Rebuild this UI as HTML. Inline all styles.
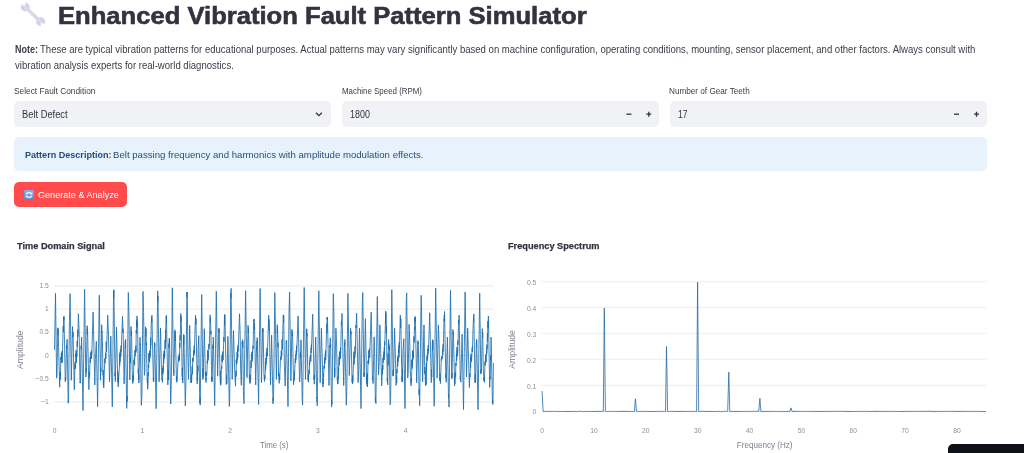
<!DOCTYPE html>
<html><head><meta charset="utf-8">
<style>
html,body{margin:0;padding:0;background:#fff;}
body{width:1024px;height:453px;overflow:hidden;position:relative;font-family:"Liberation Sans", Arial, sans-serif;color:#31333f;}
.a{position:absolute;white-space:nowrap;line-height:1;}
.t{display:inline-block;transform-origin:0 0;}
.box{position:absolute;background:#f0f2f6;border-radius:5px;}
.tick{font-size:8.0px;fill:#8d8f98;font-family:"Liberation Sans", Arial, sans-serif;}
.atitle{font-size:8.1px;fill:#7d8190;font-family:"Liberation Sans", Arial, sans-serif;}
.ytitle{font-size:8.7px;}
</style></head><body>
<div class="box" style="left:14px;top:101px;width:317px;height:26px;"></div>
<div class="box" style="left:342px;top:101px;width:317px;height:26px;"></div>
<div class="box" style="left:670px;top:101px;width:317px;height:26px;"></div>
<div class="a" style="left:14px;top:137px;width:973px;height:34px;background:#e8f2fc;border-radius:5px;"></div>
<div class="a" style="left:14px;top:182px;width:112.5px;height:25px;background:#ff4b4b;border-radius:5px;"></div>

<svg class="a" style="left:0;top:0" width="60" height="32" viewBox="0 0 60 32">
  <defs><mask id="wm"><rect x="0" y="0" width="60" height="32" fill="#fff"/>
    <rect x="-1.5" y="-5" width="3" height="5.2" rx="0.6" fill="#000" transform="translate(24.6 5.2) rotate(-28)"/>
    <rect x="-1.5" y="0" width="3" height="5.2" rx="0.6" fill="#000" transform="translate(41.6 23.2) rotate(-28)"/>
  </mask></defs>
  <g fill="#d5cee6" mask="url(#wm)">
    <circle cx="25.2" cy="7.0" r="4.4"/>
    <circle cx="40.6" cy="21.7" r="4.4"/>
    <path d="M25.2 7.0 L40.6 21.7" stroke="#dcd5ee" stroke-width="3.6" stroke-linecap="round"/>
  </g>
</svg>
<div class="a" id="title" style="left:58.38px;top:4.15px;font-size:23.8px;font-weight:bold;color:#31333f;-webkit-text-stroke:0.6px #31333f;"><span class="t" style="transform:scaleX(1.0756)">Enhanced Vibration Fault Pattern Simulator</span></div>
<div class="a" id="n1a" style="left:14.6px;top:44.73px;font-size:10.0px;color:#3a3c47;font-weight:bold;"><span class="t" style="transform:scaleX(0.9004)">Note:</span></div>
<div class="a" id="n1b" style="left:40.43px;top:44.73px;font-size:10.0px;color:#3a3c47;"><span class="t" style="transform:scaleX(0.9539)">These are typical vibration patterns for educational purposes. Actual patterns may vary significantly based on machine configuration, operating conditions, mounting, sensor placement, and other factors. Always consult with</span></div>
<div class="a" id="n2" style="left:15.0px;top:60.73px;font-size:10.0px;color:#3a3c47;"><span class="t" style="transform:scaleX(0.9556)">vibration analysis experts for real-world diagnostics.</span></div>
<div class="a" id="l1" style="left:13.65px;top:87.32px;font-size:8.6px;color:#3a3c47;"><span class="t" style="transform:scaleX(0.9680)">Select Fault Condition</span></div>
<div class="a" id="l2" style="left:341.74px;top:87.32px;font-size:8.6px;color:#3a3c47;"><span class="t" style="transform:scaleX(0.9203)">Machine Speed (RPM)</span></div>
<div class="a" id="l3" style="left:669.1px;top:87.32px;font-size:8.6px;color:#3a3c47;"><span class="t" style="transform:scaleX(0.9507)">Number of Gear Teeth</span></div>
<div class="a" id="v1" style="left:21.68px;top:110.44px;font-size:10.0px;color:#31333f;"><span class="t" style="transform:scaleX(0.9319)">Belt Defect</span></div>
<div class="a" id="v2" style="left:350.12px;top:110.44px;font-size:10.0px;color:#31333f;"><span class="t" style="transform:scaleX(0.8920)">1800</span></div>
<div class="a" id="v3" style="left:678.12px;top:110.44px;font-size:10.0px;color:#31333f;"><span class="t" style="transform:scaleX(0.8524)">17</span></div>
<div class="a" id="infoa" style="left:24.57px;top:149.70px;font-size:9.8px;color:#1f4e7a;font-weight:bold;"><span class="t" style="transform:scaleX(0.9243)">Pattern Description:</span></div>
<div class="a" id="infob" style="left:112.86px;top:149.70px;font-size:9.8px;color:#1f4e7a;"><span class="t" style="transform:scaleX(0.9818)">Belt passing frequency and harmonics with amplitude modulation effects.</span></div>
<div class="a" id="btn" style="left:38.29px;top:190.04px;font-size:9.4px;color:#fff;"><span class="t" style="transform:scaleX(0.9691)">Generate &amp; Analyze</span></div>
<div class="a" id="ct1" style="left:17.0px;top:240.66px;font-size:9.5px;font-weight:bold;color:#31333f;-webkit-text-stroke:0.25px #31333f;"><span class="t" style="transform:scaleX(0.9693)">Time Domain Signal</span></div>
<div class="a" id="ct2" style="left:508.2px;top:240.66px;font-size:9.5px;font-weight:bold;color:#31333f;-webkit-text-stroke:0.25px #31333f;"><span class="t" style="transform:scaleX(0.9686)">Frequency Spectrum</span></div>
<svg class="a" style="left:313.5px;top:111px" width="10" height="7" viewBox="0 0 10 7"><path d="M2.0 1.7 L4.9 4.6 L7.8 1.7" fill="none" stroke="#31333f" stroke-width="1.3"/></svg>
<svg class="a" style="left:620px;top:106px" width="40" height="16" viewBox="0 0 40 16">
  <path d="M6.4 8.2 H11.4" stroke="#31333f" stroke-width="1.3"/>
  <path d="M26.3 8.2 H31.3 M28.8 5.7 V10.7" stroke="#31333f" stroke-width="1.3"/>
</svg>
<svg class="a" style="left:948px;top:106px" width="40" height="16" viewBox="0 0 40 16">
  <path d="M6 8.2 H11" stroke="#31333f" stroke-width="1.3"/>
  <path d="M26 8.2 H31 M28.5 5.7 V10.7" stroke="#31333f" stroke-width="1.3"/>
</svg>
<svg class="a" style="left:24px;top:189.5px" width="10" height="10" viewBox="0 0 10 10">
  <defs><linearGradient id="eg" x1="0" y1="0" x2="0" y2="1"><stop offset="0" stop-color="#86aee8"/><stop offset="1" stop-color="#5c82d2"/></linearGradient></defs>
  <rect x="0" y="0" width="10" height="10" rx="1.2" fill="url(#eg)"/>
  <path d="M2.2 4.4 C2.6 2.6 5.2 2.0 6.9 3.3 M7.8 5.6 C7.4 7.4 4.8 8.0 3.1 6.7" fill="none" stroke="#e6f5ff" stroke-width="1.5"/>
  <path d="M8.3 1.9 L8.3 4.6 L5.6 4.6 Z M1.7 8.1 L1.7 5.4 L4.4 5.4 Z" fill="#e6f5ff"/>
</svg>

<svg class="a" style="left:0;top:0" width="1024" height="453" viewBox="0 0 1024 453">
  <g stroke="#f1f1f2" stroke-width="1.4">
    <path d="M54.5 286H493.6M54.5 309.2H493.6M54.5 332.4H493.6M54.5 355.6H493.6M54.5 378.8H493.6M54.5 402H493.6"/>
    <path d="M541.8 281.6H986.5M541.8 307.5H986.5M541.8 333.4H986.5M541.8 359.4H986.5M541.8 385.5H986.5"/>
  </g>
  <path d="M541.8 411.6H986.5" stroke="#e4e6ea" stroke-width="1"/>
  <path d="M54.5 349.8L55.5 293.3L56.6 378.0L57.0 374.6L57.8 327.8L58.0 335.2L58.1 328.5L59.7 387.2L59.8 377.4L59.9 380.1L60.0 372.5L60.1 379.2L60.3 373.4L60.4 375.7L60.9 357.1L61.0 360.0L61.3 357.9L61.3 362.6L61.4 352.9L61.5 361.4L62.0 351.2L62.2 362.8L63.2 326.1L63.4 331.9L63.6 316.9L63.9 320.4L64.0 316.2L65.3 381.8L65.4 377.6L65.6 380.4L65.8 378.8L66.5 345.3L66.7 348.8L67.1 339.3L68.2 403.0L68.5 399.3L68.5 403.1L69.4 321.6L70.1 293.7L71.3 380.3L72.5 326.5L72.9 337.2L73.0 332.2L74.3 389.7L75.0 362.5L75.1 369.1L75.4 364.7L75.5 367.9L75.7 353.2L75.8 357.2L76.2 350.0L76.4 355.4L76.5 350.0L76.5 362.9L76.7 353.5L76.8 356.7L77.1 353.2L77.2 341.0L77.3 346.8L77.8 329.6L77.9 336.8L78.4 313.8L79.1 330.8L80.0 382.8L80.1 382.0L80.4 383.2L81.1 345.6L81.3 349.5L81.6 337.1L83.0 410.5L84.6 289.1L85.8 377.1L86.1 375.2L86.2 368.2L86.3 372.7L87.2 325.7L87.2 334.5L87.3 328.6L87.6 332.4L88.9 389.6L89.3 372.1L89.5 377.6L90.1 357.2L90.3 362.6L90.9 352.3L91.0 357.3L91.4 350.2L91.6 358.8L91.6 352.6L91.8 354.3L93.1 312.1L94.8 384.9L95.4 359.3L96.3 341.2L97.6 406.6L99.3 295.2L100.5 380.3L100.8 367.5L100.9 371.9L101.7 324.7L101.8 332.6L102.0 330.8L102.2 332.8L102.4 340.3L103.0 375.1L103.1 370.0L103.4 385.1L103.6 374.9L103.7 388.0L104.8 358.5L105.1 363.2L105.6 352.7L105.9 358.8L106.2 341.7L106.6 351.7L107.7 315.2L108.4 331.9L109.5 381.6L110.8 336.2L112.3 406.8L113.6 290.8L113.7 297.9L113.9 289.7L115.0 376.3L115.2 372.0L115.3 381.7L116.5 327.2L117.6 374.9L117.8 371.4L117.9 382.1L118.0 374.0L118.2 386.8L118.3 377.1L118.4 383.2L119.5 364.6L119.6 354.7L119.7 365.6L119.9 352.6L120.0 361.7L120.4 349.8L120.5 357.5L120.6 350.7L120.8 356.3L121.1 345.6L121.2 351.4L122.5 316.3L123.0 333.0L123.1 328.7L124.1 383.9L125.1 344.0L125.3 340.9L125.5 348.4L125.6 339.2L126.7 408.4L127.1 396.1L127.2 401.4L128.3 292.5L129.0 316.5L129.8 379.9L130.3 357.8L130.4 363.1L131.0 326.6L131.1 333.3L131.2 335.8L131.4 330.7L131.7 338.8L132.2 370.5L132.6 382.0L132.7 376.1L132.8 383.5L133.2 375.1L133.3 380.6L134.0 360.2L134.0 364.1L134.4 357.2L134.6 365.2L134.9 350.5L135.1 356.4L135.4 349.4L135.5 352.0L135.7 349.2L135.8 352.7L135.9 345.8L136.0 351.4L136.2 330.1L136.5 333.7L136.6 319.7L136.9 327.4L137.0 315.9L137.4 325.5L137.5 322.2L138.3 374.0L138.4 368.6L138.6 380.3L138.8 374.6L138.9 383.0L140.0 337.4L140.2 345.2L140.4 343.5L141.3 405.3L141.9 396.2L143.0 291.4L143.6 312.3L144.4 375.3L144.8 371.5L145.5 326.7L145.8 336.6L146.1 328.4L146.2 345.3L146.3 342.5L147.2 380.0L147.4 383.1L147.5 378.0L147.6 385.0L147.7 377.2L147.7 389.3L148.0 372.2L148.2 376.5L148.4 364.5L148.7 367.8L148.9 353.1L149.0 361.4L149.2 353.4L149.5 362.3L149.8 350.6L149.9 358.4L149.9 350.9L150.3 355.9L150.5 342.1L150.6 349.4L150.7 337.5L150.8 345.5L151.2 325.1L151.5 317.5L151.8 322.8L151.9 315.2L153.4 381.2L153.5 376.8L153.7 381.8L154.5 342.5L154.6 345.1L154.7 342.6L154.8 345.7L154.9 344.8L156.1 408.7L157.7 290.9L157.8 301.6L158.0 296.0L159.1 381.8L160.5 328.0L161.5 371.7L161.8 378.5L162.0 379.9L162.1 378.5L162.4 382.4L162.8 368.4L162.8 374.3L162.9 367.8L163.1 372.4L163.2 365.5L163.3 369.1L163.5 354.4L163.7 363.7L164.1 350.9L164.2 358.6L164.5 350.5L164.6 357.0L165.1 339.9L165.2 349.0L165.6 329.8L165.7 342.1L165.7 330.7L166.3 315.7L166.4 323.5L166.4 315.7L167.8 384.9L168.3 370.6L168.4 380.0L168.9 343.5L169.0 348.2L169.3 338.2L169.4 344.0L169.5 338.8L170.7 404.0L171.4 377.3L172.3 287.8L173.5 369.8L173.6 372.6L173.7 369.8L173.8 375.8L174.9 329.8L175.0 340.9L175.3 331.7L176.5 381.2L176.8 376.4L176.9 382.3L178.4 356.1L178.5 358.9L178.7 355.8L178.8 361.6L179.3 353.4L179.5 360.4L179.7 342.5L179.9 347.7L180.1 335.2L180.2 340.4L180.8 313.5L181.0 321.3L181.1 316.3L181.3 320.0L182.2 376.5L182.3 367.9L182.4 380.1L182.6 375.6L182.8 383.0L183.7 334.4L183.7 345.1L183.9 335.3L185.3 405.9L186.0 379.1L186.9 292.0L187.1 297.4L187.2 292.1L187.9 356.2L188.5 379.3L189.7 325.4L190.8 374.5L191.0 382.9L191.2 374.2L191.3 382.7L191.5 377.6L191.6 381.4L192.2 366.2L192.3 374.3L192.7 358.4L192.9 360.3L193.0 357.8L193.1 361.7L193.7 350.2L194.0 355.3L194.2 345.8L194.3 353.6L195.5 315.1L195.9 324.7L195.9 318.2L197.2 383.9L197.4 370.0L197.4 380.8L197.8 365.9L197.9 371.2L198.1 348.3L198.8 335.7L199.6 392.2L199.9 403.2L200.1 397.0L200.2 405.1L201.7 294.5L202.9 379.6L203.0 368.1L203.2 377.6L204.3 328.7L205.4 375.4L205.5 371.8L205.6 380.0L205.9 378.1L206.0 382.5L206.5 372.3L206.6 375.9L206.9 372.5L207.3 361.1L207.4 362.9L207.4 359.4L207.5 363.7L207.7 350.0L207.8 357.9L208.1 353.7L208.2 360.4L208.9 344.8L208.9 349.1L209.1 343.9L209.3 346.0L210.1 314.8L210.3 322.4L210.4 318.1L210.7 323.8L210.8 334.4L210.9 330.7L211.7 381.7L211.8 376.5L211.9 381.8L212.1 377.4L212.2 379.5L212.8 346.5L212.9 348.3L213.1 344.4L213.2 347.7L213.3 337.0L214.7 405.6L216.3 291.2L217.6 376.1L218.8 328.2L219.0 332.6L219.2 329.0L219.7 362.3L220.2 377.2L220.3 370.9L220.4 383.0L220.4 378.8L220.5 384.3L220.7 377.1L220.8 385.3L221.5 366.5L221.8 368.6L222.0 355.5L222.1 361.7L222.3 354.6L222.5 362.0L222.7 351.6L223.1 360.1L223.8 337.0L224.0 341.7L224.5 314.8L224.6 325.7L224.9 314.5L226.3 384.5L226.6 375.3L226.8 384.0L227.9 336.4L229.3 406.5L229.7 399.3L230.7 293.2L231.0 298.2L231.1 288.4L232.2 379.3L233.5 330.6L234.6 369.4L235.5 386.2L235.7 374.5L235.8 377.1L236.0 370.7L236.2 375.6L236.2 360.1L236.6 364.3L236.8 358.7L236.9 363.3L237.1 352.1L237.4 359.9L237.5 348.8L237.8 357.7L237.9 345.4L238.2 351.4L239.5 313.8L240.2 334.6L240.6 368.5L241.3 385.2L242.2 341.4L242.3 344.5L242.7 339.8L242.7 347.9L242.8 341.3L243.4 390.6L244.0 403.7L245.6 290.7L247.0 377.6L248.1 325.3L248.3 332.2L248.5 328.3L249.4 378.4L249.7 374.9L249.9 383.5L250.0 374.9L250.1 382.9L250.3 377.1L250.6 379.7L251.0 360.5L251.1 368.0L251.5 353.7L251.8 358.6L252.0 352.0L252.3 361.4L252.5 350.8L252.6 353.4L253.0 345.6L253.1 349.1L253.7 319.6L253.9 321.6L254.1 319.0L254.4 329.7L254.5 323.4L255.7 384.9L256.6 345.8L256.7 349.7L257.0 340.8L257.1 345.0L257.2 337.6L258.6 404.5L260.1 288.5L261.5 382.7L262.6 328.4L262.8 332.3L263.0 328.3L263.2 332.6L263.9 373.6L264.5 381.4L264.6 375.4L264.9 379.2L265.4 369.3L265.5 361.6L265.6 370.0L265.7 362.0L265.7 366.4L265.9 358.0L266.0 363.8L266.4 352.8L266.7 359.2L266.8 348.2L266.9 356.0L267.2 352.3L267.3 356.0L268.7 315.3L268.9 326.5L269.0 319.4L269.3 331.2L269.3 327.1L270.5 384.9L271.6 335.2L273.0 403.9L273.1 397.6L273.4 401.3L273.6 395.3L274.8 292.6L276.4 379.3L277.3 324.7L277.4 333.2L277.5 327.2L278.0 347.2L278.1 342.8L278.6 376.3L278.7 372.8L279.2 383.4L279.4 374.8L279.7 379.9L280.4 360.2L280.8 356.9L281.0 360.2L281.3 350.4L281.4 358.2L281.6 352.3L281.7 355.7L281.9 353.5L282.1 339.3L282.2 349.7L283.3 314.8L283.6 322.7L283.7 315.3L284.4 365.8L285.2 386.0L286.1 344.4L286.3 340.6L286.4 343.5L286.6 340.5L288.0 406.5L289.0 312.5L289.6 292.0L290.9 380.8L291.9 329.4L292.2 336.3L292.4 331.5L292.6 338.3L293.6 384.7L293.7 379.8L293.9 381.1L294.3 376.6L294.4 379.5L294.5 371.3L294.5 376.2L295.2 358.6L295.6 363.0L295.8 354.5L295.9 359.6L296.0 352.0L296.2 350.7L296.3 351.3L296.4 354.8L296.5 345.6L296.7 352.0L298.1 315.9L299.5 379.3L299.7 381.8L300.2 370.9L300.4 352.4L300.5 357.9L301.0 339.8L302.2 398.7L302.6 405.1L304.2 287.5L305.5 379.3L306.6 330.0L306.7 331.4L306.7 328.7L307.0 336.5L307.1 333.3L307.8 371.4L308.1 380.3L308.2 374.4L308.4 382.2L308.9 370.0L309.2 374.3L309.4 372.1L309.5 360.8L309.6 365.2L310.0 357.8L310.3 356.0L310.3 359.6L310.7 354.6L310.8 361.5L311.1 347.9L311.2 353.1L311.3 344.8L311.5 348.2L312.7 314.1L314.0 379.5L314.1 374.9L314.3 384.2L314.4 377.0L314.6 375.8L314.7 377.7L315.7 337.0L316.8 399.1L316.8 397.2L316.9 401.3L317.1 400.2L317.2 405.8L318.8 290.8L320.2 382.7L321.4 328.2L323.0 387.1L323.1 378.6L323.3 384.1L323.4 373.6L323.6 377.0L323.9 368.2L324.1 366.6L324.2 368.7L324.3 365.0L324.4 367.3L324.5 357.6L324.9 363.7L325.3 353.0L325.5 357.1L325.6 350.5L325.7 359.8L326.8 323.7L326.9 333.1L327.0 319.4L327.1 317.0L327.2 319.7L327.4 317.4L329.0 385.5L329.8 345.2L329.9 348.0L330.3 337.9L330.5 346.6L330.6 343.8L331.6 407.1L331.7 400.3L332.0 404.5L333.3 293.7L333.8 308.8L334.5 377.3L334.7 368.0L334.8 377.2L335.9 328.1L336.5 340.9L337.3 379.5L337.5 383.7L337.6 377.7L337.9 384.1L338.1 375.2L338.4 379.1L338.4 366.8L338.5 374.2L339.1 356.9L339.2 365.4L339.5 351.9L339.6 360.2L339.8 352.5L339.9 358.9L340.0 351.3L340.1 358.3L340.6 347.9L340.6 354.1L341.4 321.2L341.5 325.3L342.0 313.4L343.7 385.5L344.6 342.5L344.7 345.6L344.9 339.4L346.3 405.2L346.9 385.8L347.9 293.4L349.3 375.5L350.6 328.3L350.9 334.5L351.0 331.3L352.1 382.4L352.3 378.3L352.5 383.9L352.7 375.4L352.8 382.6L353.9 351.7L354.2 364.4L354.3 355.0L354.5 358.5L354.6 353.6L354.8 357.7L355.0 346.4L355.0 354.2L355.4 348.7L355.9 325.2L356.1 327.9L356.6 313.2L358.1 382.6L358.7 370.7L359.5 328.3L361.0 408.5L362.3 302.4L362.8 292.6L363.9 376.4L364.1 372.7L364.2 377.1L364.4 369.5L365.4 318.7L366.6 383.7L366.9 375.1L367.1 386.0L367.2 373.3L367.5 387.0L368.0 360.7L368.2 363.5L368.4 360.7L368.5 364.1L368.6 356.1L368.7 362.4L368.9 350.8L369.0 356.3L369.1 350.0L369.4 354.1L369.4 348.6L369.7 357.8L371.2 312.2L372.5 379.9L372.6 376.4L373.1 383.5L374.1 336.9L374.6 349.1L375.4 401.9L375.5 397.4L375.9 403.6L377.3 296.5L378.5 375.1L379.2 362.2L379.9 324.8L381.7 386.0L382.3 367.8L382.4 374.4L382.7 364.8L382.8 369.9L383.0 357.9L383.0 362.7L383.5 355.2L383.6 360.0L384.0 351.6L384.2 359.9L384.3 346.7L384.4 355.2L384.6 341.4L384.8 345.4L385.7 311.1L385.8 324.3L385.9 312.6L386.3 333.2L386.4 325.6L387.3 381.8L387.4 378.4L387.7 384.8L388.1 353.5L388.1 365.5L388.6 339.6L388.8 348.4L388.8 343.6L389.2 350.0L389.3 346.2L390.1 404.8L390.5 402.6L390.7 394.0L391.8 289.7L393.1 375.8L393.1 369.8L393.2 376.3L393.3 372.4L393.5 375.1L394.6 328.2L396.1 385.4L396.6 375.1L396.7 383.0L396.7 373.0L396.9 369.2L397.0 373.3L397.5 357.7L397.7 366.4L397.9 356.2L398.1 362.1L398.6 348.8L398.9 352.8L398.9 345.6L399.0 357.5L399.2 342.4L399.4 348.0L400.3 315.2L400.7 328.0L400.8 318.5L401.9 381.6L402.2 376.1L402.4 382.1L402.5 369.2L402.5 380.7L403.0 350.6L403.8 338.7L405.0 408.5L406.3 299.7L406.7 292.9L407.7 377.9L408.2 372.9L409.1 324.3L409.9 346.3L410.2 367.5L411.1 385.8L411.1 378.6L411.3 382.8L411.8 371.4L411.9 359.5L412.0 368.7L412.2 360.2L412.4 366.5L412.6 350.4L412.8 360.4L412.9 352.3L413.0 357.1L413.2 352.0L413.3 358.4L414.0 336.3L414.1 342.5L414.5 326.8L414.7 329.9L414.7 322.0L414.9 318.2L415.0 322.5L415.1 317.0L415.2 320.7L415.3 316.5L416.7 382.7L417.8 340.5L418.2 343.8L418.3 342.1L419.1 395.2L419.2 389.1L419.7 405.7L421.1 295.3L421.4 300.2L422.6 381.8L424.0 324.9L424.8 373.9L424.9 367.1L425.5 385.7L426.0 370.4L426.2 384.7L426.4 362.5L426.5 369.8L427.0 356.5L427.2 360.9L427.3 354.2L427.4 359.4L427.5 354.7L427.6 358.5L427.8 349.0L428.1 354.3L428.2 345.2L428.3 350.7L428.4 348.4L428.5 350.7L429.7 312.8L431.3 382.7L431.4 369.6L431.8 377.2L432.4 341.7L432.5 350.9L432.6 339.6L432.7 349.2L432.9 340.4L434.2 406.2L435.7 288.2L437.1 378.0L438.4 324.9L439.1 342.0L439.5 371.5L439.9 380.9L440.0 373.7L440.4 383.6L441.3 358.5L441.5 360.7L441.9 356.3L442.0 359.2L442.1 356.0L442.4 357.5L442.5 349.8L442.8 355.1L443.1 344.4L443.2 351.3L444.0 320.8L444.1 318.9L444.2 320.9L444.3 315.0L444.4 321.9L444.5 311.5L445.8 377.6L445.9 373.9L446.2 382.3L447.4 337.2L448.5 397.7L448.5 394.1L448.7 396.0L449.0 407.1L450.5 290.4L451.7 378.3L451.9 372.9L452.0 378.3L452.9 329.6L453.2 334.8L453.4 332.5L454.6 385.9L454.7 376.9L454.9 383.9L455.2 372.6L455.4 377.1L455.5 372.8L455.6 377.2L455.8 364.8L455.9 362.9L456.0 366.0L456.5 354.2L456.6 360.8L456.9 357.3L457.0 346.9L457.1 356.1L457.2 350.5L457.3 355.7L457.4 348.9L457.5 355.5L457.8 351.7L457.9 340.4L457.9 344.8L458.1 341.8L458.4 326.8L458.6 320.1L458.8 323.9L459.1 315.2L460.3 379.5L460.4 375.6L460.8 382.2L460.9 378.7L462.1 334.3L463.5 409.6L465.1 292.0L466.5 377.0L467.7 328.2L469.4 387.6L469.8 373.3L469.9 377.4L470.2 372.7L470.5 362.1L470.6 367.8L470.8 356.8L470.9 361.3L471.0 353.8L471.2 362.1L471.4 355.8L471.6 360.3L472.2 348.4L472.3 352.0L472.3 346.7L472.5 350.1L473.0 328.6L473.6 316.8L473.7 321.6L473.8 313.9L475.0 382.7L475.1 374.5L475.5 382.7L476.3 344.2L476.4 341.5L476.6 347.2L476.7 339.3L478.0 409.6L479.7 293.1L480.8 374.1L480.9 369.3L481.2 372.9L481.4 370.3L482.3 328.6L482.6 337.5L482.7 332.5L483.3 369.6L483.8 379.2L483.9 380.9L484.2 376.9L484.4 382.4L485.0 361.7L485.2 365.4L485.5 357.6L485.7 362.5L485.9 354.0L486.0 362.2L486.7 348.3L486.8 353.9L486.9 344.5L487.2 348.8L487.4 333.6L487.5 341.4L487.9 321.1L488.0 328.0L488.4 316.0L489.7 387.4L490.0 376.7L490.1 379.1L490.3 378.0L490.6 355.6L490.8 360.4L491.1 337.1L492.5 403.9L492.7 399.8L492.8 404.4L493.0 399.3L493.4 363.0" fill="none" stroke="#1d6fae" stroke-width="0.85" stroke-linejoin="round"/>
  <path d="M542.1 391.1L543.1 411.3L544.2 411.5L545.2 411.2L546.2 411.3L547.3 411.6L548.3 411.3L549.4 411.5L550.4 411.5L551.4 411.2L552.5 411.3L553.5 411.4L554.5 411.3L555.6 411.4L556.6 411.5L557.7 411.5L558.7 411.4L559.7 411.4L560.8 411.5L561.8 411.5L562.8 411.4L563.9 411.5L564.9 411.3L566.0 411.5L567.0 411.5L568.0 411.5L569.1 411.5L570.1 411.4L571.1 411.4L572.2 411.4L573.2 411.5L574.2 411.5L575.3 411.3L576.3 411.5L577.4 411.6L578.4 411.4L579.4 411.4L580.5 411.3L581.5 411.4L582.5 411.5L583.6 411.5L584.6 411.5L585.7 411.6L586.7 411.4L587.7 411.4L588.8 411.4L589.8 411.4L590.8 411.5L591.9 411.5L592.9 411.4L594.0 411.3L595.0 411.6L596.0 411.4L597.1 411.4L598.1 411.3L599.1 411.3L600.2 411.4L601.2 411.3L602.2 411.3L603.3 411.5L604.3 308.2L605.4 411.2L606.4 411.5L607.4 411.5L608.5 411.4L609.5 411.5L610.5 411.5L611.6 411.4L612.6 411.3L613.7 411.4L614.7 411.2L615.7 411.5L616.8 411.5L617.8 411.4L618.8 411.4L619.9 411.4L620.9 411.3L621.9 411.5L623.0 411.3L624.0 411.3L625.1 411.5L626.1 411.3L627.1 411.3L628.2 411.5L629.2 411.4L630.2 411.4L631.3 411.5L632.3 411.5L633.4 411.4L634.4 411.4L635.4 398.8L636.5 411.4L637.5 411.3L638.5 411.5L639.6 411.3L640.6 411.3L641.7 411.6L642.7 411.5L643.7 411.4L644.8 411.5L645.8 411.4L646.8 411.4L647.9 411.3L648.9 411.5L649.9 411.5L651.0 411.5L652.0 411.4L653.1 411.4L654.1 411.5L655.1 411.5L656.2 411.3L657.2 411.4L658.2 411.5L659.3 411.5L660.3 411.3L661.4 411.3L662.4 411.5L663.4 411.4L664.5 411.4L665.5 411.5L666.5 346.5L667.6 411.5L668.6 411.4L669.7 411.4L670.7 411.3L671.7 411.3L672.8 411.4L673.8 411.3L674.8 411.4L675.9 411.4L676.9 411.6L677.9 411.3L679.0 411.5L680.0 411.5L681.1 411.3L682.1 411.5L683.1 411.4L684.2 411.5L685.2 411.4L686.2 411.2L687.3 411.5L688.3 411.5L689.4 411.3L690.4 411.5L691.4 411.4L692.5 411.4L693.5 411.4L694.5 411.4L695.6 411.4L696.6 411.5L697.6 282.0L698.7 411.4L699.7 411.5L700.8 411.5L701.8 411.2L702.8 411.2L703.9 411.4L704.9 411.4L705.9 411.4L707.0 411.5L708.0 411.3L709.1 411.6L710.1 411.3L711.1 411.5L712.2 411.6L713.2 411.5L714.2 411.5L715.3 411.4L716.3 411.4L717.4 411.5L718.4 411.6L719.4 411.3L720.5 411.5L721.5 411.6L722.5 411.5L723.6 411.3L724.6 411.4L725.6 411.4L726.7 411.5L727.7 411.2L728.8 372.2L729.8 411.4L730.8 411.5L731.9 411.5L732.9 411.2L733.9 411.5L735.0 411.4L736.0 411.5L737.1 411.6L738.1 411.2L739.1 411.5L740.2 411.4L741.2 411.5L742.2 411.3L743.3 411.5L744.3 411.5L745.4 411.2L746.4 411.6L747.4 411.5L748.5 411.5L749.5 411.5L750.5 411.4L751.6 411.5L752.6 411.5L753.6 411.2L754.7 411.3L755.7 411.3L756.8 411.4L757.8 411.2L758.8 411.2L759.9 398.4L760.9 411.5L761.9 411.3L763.0 411.5L764.0 411.4L765.1 411.5L766.1 411.4L767.1 411.4L768.2 411.5L769.2 411.3L770.2 411.3L771.3 411.5L772.3 411.3L773.4 411.4L774.4 411.4L775.4 411.5L776.5 411.5L777.5 411.5L778.5 411.5L779.6 411.4L780.6 411.6L781.6 411.5L782.7 411.4L783.7 411.3L784.8 411.6L785.8 411.4L786.8 411.4L787.9 411.5L788.9 411.3L789.9 411.4L791.0 407.9L792.0 411.4L793.1 411.5L794.1 411.2L795.1 411.5L796.2 411.3L797.2 411.4L798.2 411.3L799.3 411.4L800.3 411.5L801.4 411.5L802.4 411.4L803.4 411.4L804.5 411.4L805.5 411.3L806.5 411.3L807.6 411.5L808.6 411.5L809.6 411.3L810.7 411.5L811.7 411.3L812.8 411.4L813.8 411.4L814.8 411.3L815.9 411.5L816.9 411.4L817.9 411.4L819.0 411.4L820.0 411.3L821.1 411.4L822.1 411.6L823.1 411.3L824.2 411.5L825.2 411.5L826.2 411.2L827.3 411.4L828.3 411.3L829.3 411.4L830.4 411.4L831.4 411.4L832.5 411.3L833.5 411.4L834.5 411.3L835.6 411.3L836.6 411.4L837.6 411.4L838.7 411.4L839.7 411.4L840.8 411.3L841.8 411.3L842.8 411.4L843.9 411.4L844.9 411.3L845.9 411.4L847.0 411.4L848.0 411.4L849.1 411.4L850.1 411.5L851.1 411.6L852.2 411.3L853.2 411.5L854.2 411.5L855.3 411.5L856.3 411.3L857.3 411.5L858.4 411.5L859.4 411.1L860.5 411.4L861.5 411.4L862.5 411.5L863.6 411.4L864.6 411.3L865.6 411.4L866.7 411.5L867.7 411.3L868.8 411.5L869.8 411.5L870.8 411.5L871.9 411.4L872.9 411.4L873.9 411.4L875.0 411.2L876.0 411.3L877.1 411.4L878.1 411.4L879.1 411.5L880.2 411.3L881.2 411.3L882.2 411.4L883.3 411.4L884.3 411.4L885.3 411.5L886.4 411.4L887.4 411.4L888.5 411.4L889.5 411.5L890.5 411.3L891.6 411.5L892.6 411.3L893.6 411.6L894.7 411.5L895.7 411.3L896.8 411.6L897.8 411.4L898.8 411.4L899.9 411.5L900.9 411.5L901.9 411.4L903.0 411.5L904.0 411.4L905.0 411.3L906.1 411.3L907.1 411.4L908.2 411.4L909.2 411.3L910.2 411.5L911.3 411.3L912.3 411.1L913.3 411.6L914.4 411.4L915.4 411.4L916.5 411.4L917.5 411.4L918.5 411.2L919.6 411.4L920.6 411.4L921.6 411.4L922.7 411.5L923.7 411.2L924.8 411.3L925.8 411.3L926.8 411.5L927.9 411.3L928.9 411.2L929.9 411.3L931.0 411.4L932.0 411.2L933.0 411.4L934.1 411.6L935.1 411.6L936.2 411.4L937.2 411.5L938.2 411.5L939.3 411.4L940.3 411.3L941.3 411.5L942.4 411.5L943.4 411.4L944.5 411.4L945.5 411.3L946.5 411.5L947.6 411.3L948.6 411.4L949.6 411.4L950.7 411.2L951.7 411.4L952.8 411.3L953.8 411.5L954.8 411.4L955.9 411.4L956.9 411.3L957.9 411.3L959.0 411.6L960.0 411.4L961.0 411.4L962.1 411.2L963.1 411.5L964.2 411.3L965.2 411.4L966.2 411.4L967.3 411.4L968.3 411.4L969.3 411.5L970.4 411.5L971.4 411.5L972.5 411.4L973.5 411.4L974.5 411.5L975.6 411.3L976.6 411.4L977.6 411.5L978.7 411.3L979.7 411.6L980.8 411.5L981.8 411.4L982.8 411.6L983.9 411.5L984.9 411.5L985.9 411.4" fill="none" stroke="#2a6aa5" stroke-width="0.8" stroke-linejoin="round"/>
<g class="tick">
<text transform="translate(48.8 287.9) scale(0.84 1)" text-anchor="end">1.5</text>
<text transform="translate(48.8 311.1) scale(0.84 1)" text-anchor="end">1</text>
<text transform="translate(48.8 334.3) scale(0.84 1)" text-anchor="end">0.5</text>
<text transform="translate(48.8 357.5) scale(0.84 1)" text-anchor="end">0</text>
<text transform="translate(48.8 380.7) scale(0.84 1)" text-anchor="end">−0.5</text>
<text transform="translate(48.8 403.9) scale(0.84 1)" text-anchor="end">−1</text>
<text transform="translate(536.3 284.8) scale(0.84 1)" text-anchor="end">0.5</text>
<text transform="translate(536.3 310.7) scale(0.84 1)" text-anchor="end">0.4</text>
<text transform="translate(536.3 336.6) scale(0.84 1)" text-anchor="end">0.3</text>
<text transform="translate(536.3 362.5) scale(0.84 1)" text-anchor="end">0.2</text>
<text transform="translate(536.3 388.5) scale(0.84 1)" text-anchor="end">0.1</text>
<text transform="translate(536.3 414.4) scale(0.84 1)" text-anchor="end">0</text>
<text transform="translate(54.5 432.8) scale(0.84 1)" text-anchor="middle">0</text>
<text transform="translate(142.3 432.8) scale(0.84 1)" text-anchor="middle">1</text>
<text transform="translate(230.1 432.8) scale(0.84 1)" text-anchor="middle">2</text>
<text transform="translate(317.9 432.8) scale(0.84 1)" text-anchor="middle">3</text>
<text transform="translate(405.7 432.8) scale(0.84 1)" text-anchor="middle">4</text>
<text transform="translate(542.1 432.8) scale(0.84 1)" text-anchor="middle">0</text>
<text transform="translate(594.0 432.8) scale(0.84 1)" text-anchor="middle">10</text>
<text transform="translate(645.8 432.8) scale(0.84 1)" text-anchor="middle">20</text>
<text transform="translate(697.7 432.8) scale(0.84 1)" text-anchor="middle">30</text>
<text transform="translate(749.5 432.8) scale(0.84 1)" text-anchor="middle">40</text>
<text transform="translate(801.4 432.8) scale(0.84 1)" text-anchor="middle">50</text>
<text transform="translate(853.2 432.8) scale(0.84 1)" text-anchor="middle">60</text>
<text transform="translate(905.0 432.8) scale(0.84 1)" text-anchor="middle">70</text>
<text transform="translate(956.9 432.8) scale(0.84 1)" text-anchor="middle">80</text>
</g>
<g class="atitle">
<text transform="translate(274.1 448) scale(0.9 1)" text-anchor="middle" style="font-size:8.7px">Time (s)</text>
<text transform="translate(764.7 448) scale(0.93 1)" text-anchor="middle" style="font-size:8.7px">Frequency (Hz)</text>
<text transform="translate(22.6 349.7) rotate(-90)" text-anchor="middle" class="ytitle">Amplitude</text>
<text transform="translate(514.6 349.4) rotate(-90)" text-anchor="middle" class="ytitle">Amplitude</text>
</g>
</svg>
<div class="a" style="left:948px;top:444px;width:90px;height:20px;background:#0e1117;border-radius:5px;"></div>
</body></html>
